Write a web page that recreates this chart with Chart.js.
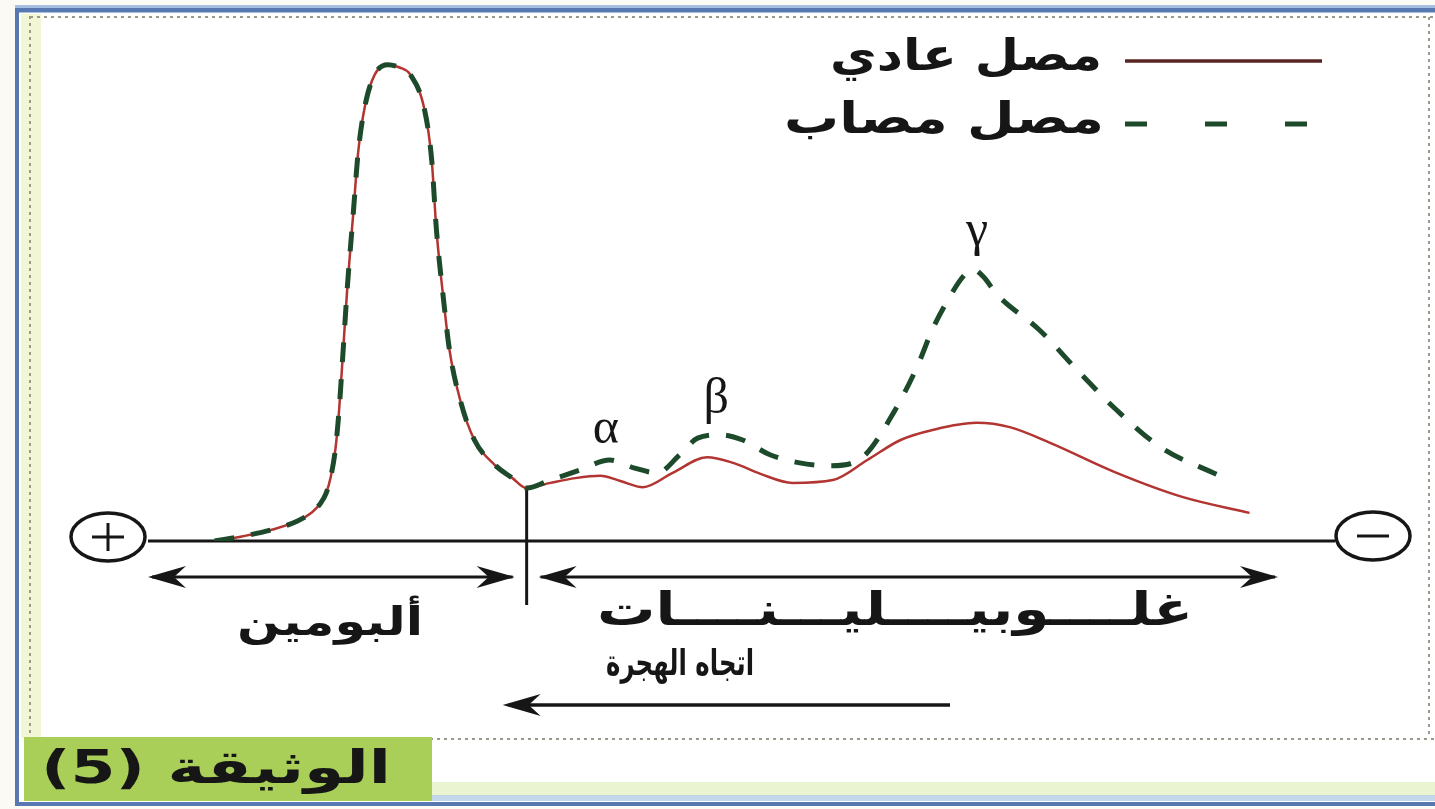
<!DOCTYPE html>
<html lang="ar">
<head>
<meta charset="utf-8">
<title>الهجرة الكهربائية لبروتينات المصل</title>
<script src="https://cdn.jsdelivr.net/npm/chart.js@4.4.1/dist/chart.umd.min.js"></script>
<style>
  html, body { margin: 0; padding: 0; background: #fff; }
  #chart { display: block; }
</style>
</head>
<body>
<canvas id="chart" width="1435" height="809"></canvas>
<script>
// x: migration distance from the + pole, y: relative protein amount (albumin peak = 100)
// albumin part, identical for both sera
const albuminX = [5.6, 8.0, 10.5, 12.6, 13.8, 14.5, 15.0, 15.4, 15.8, 16.1, 16.4, 16.8, 17.3, 17.7, 18.3, 19.1, 20.2, 21.2, 22.1, 23.3, 23.9, 24.3, 24.9, 25.4, 26.3, 27.5, 29.2, 30.7, 31.9];
const albuminY = [0, 1.0, 2.4, 4.2, 6.0, 7.8, 10.0, 13.5, 19.5, 27.5, 38.5, 53.5, 69.0, 81.5, 91.6, 97.9, 100, 99.4, 97.9, 90.5, 80.0, 65.3, 50.6, 40.1, 29.6, 21.2, 16.0, 13.2, 11.1];

// globulins, normal serum
const normalX = [33.9, 36.0, 38.1, 39.8, 41.7, 44.2, 47.1, 49.3, 51.6, 54.3, 57.7, 60.6, 63.4, 66.1, 69.8, 72.6, 76.0, 81.6, 87.2, 92.8];
const normalY = [12.2, 13.2, 13.7, 12.6, 11.3, 14.3, 17.6, 16.4, 14.1, 12.2, 12.8, 17.0, 21.2, 23.3, 24.8, 23.9, 20.6, 14.3, 9.2, 5.9];

// globulins, infected serum
const infectedX = [33.9, 36.4, 38.9, 41.0, 42.9, 44.8, 46.3, 48.2, 50.1, 52.4, 54.9, 57.5, 60.2, 62.8, 64.8, 66.1, 67.6, 68.7, 69.5, 70.4, 71.5, 75.1, 78.5, 81.6, 85.3, 90.1];
const infectedY = [12.8, 14.9, 17.0, 15.3, 14.3, 18.1, 21.6, 22.3, 21.2, 18.1, 16.4, 15.8, 17.6, 26.9, 36.6, 44.5, 51.5, 55.6, 57.0, 55.4, 51.8, 44.3, 35.3, 27.5, 19.7, 13.9];

const seriesNames = ['مصل عادي', 'مصل مصاب'];
const fractionNames = ['α', 'β', 'γ'];
const fractionPeakX = [38.9, 48.2, 69.5];   // peaks on the infected curve
const zoneNames = ['ألبومين', 'غلــــوبيــــليـــنــــات'];
const migrationText = 'اتجاه الهجرة';
const captionText = 'الوثيقة (5)';

const toPoints = (xs, ys) => xs.map((x, i) => ({ x: x, y: ys[i] }));
const albumin = toPoints(albuminX, albuminY);

const ink = '#161616';
const arabicFont = '"DejaVu Sans", sans-serif';

function arrowHead(ctx, x, y, dir) {
  // dir = -1 points left, 1 points right
  ctx.beginPath();
  ctx.moveTo(x, y);
  ctx.lineTo(x - dir * 38, y - 11);
  ctx.lineTo(x - dir * 26, y);
  ctx.lineTo(x - dir * 38, y + 11);
  ctx.closePath();
  ctx.fill();
}

function hLine(ctx, x1, x2, y, w) {
  ctx.lineWidth = w;
  ctx.beginPath();
  ctx.moveTo(x1, y);
  ctx.lineTo(x2, y);
  ctx.stroke();
}

// draws text squeezed/stretched to a given width
function fitText(ctx, str, cx, cy, font, width) {
  ctx.save();
  ctx.font = font;
  ctx.direction = 'rtl';
  ctx.textAlign = 'center';
  ctx.textBaseline = 'middle';
  const w = ctx.measureText(str).width;
  ctx.translate(cx, cy);
  ctx.scale(width / w, 1);
  ctx.fillText(str, 0, 0);
  ctx.restore();
}

function electrode(ctx, cx, cy, plus) {
  ctx.lineWidth = 3.5;
  ctx.beginPath();
  ctx.ellipse(cx, cy, 37, 24, 0, 0, Math.PI * 2);
  ctx.stroke();
  ctx.lineWidth = 3;
  ctx.beginPath();
  ctx.moveTo(cx - 16, cy);
  ctx.lineTo(cx + 16, cy);
  if (plus) {
    ctx.moveTo(cx, cy - 14);
    ctx.lineTo(cx, cy + 14);
  }
  ctx.stroke();
}

const sheet = {
  id: 'sheet',
  beforeDraw(chart) {
    const ctx = chart.ctx;
    const W = chart.width, H = chart.height;
    ctx.save();
    ctx.fillStyle = '#fbfaf4';
    ctx.fillRect(0, 0, W, H);
    ctx.fillStyle = '#ffffff';
    ctx.fillRect(19, 14, W - 19, H - 20);

    // pale strip along the left edge
    ctx.fillStyle = 'rgba(226, 236, 160, 0.45)';
    ctx.fillRect(21, 14, 20, 724);
    ctx.strokeStyle = '#9a9a8a';
    ctx.setLineDash([3, 4]);
    ctx.lineWidth = 2;
    ctx.beginPath();
    ctx.moveTo(30, 16); ctx.lineTo(30, 738);
    ctx.moveTo(30, 17); ctx.lineTo(W, 17);
    ctx.moveTo(1429, 17); ctx.lineTo(1429, 738);
    ctx.moveTo(430, 739); ctx.lineTo(W, 739);
    ctx.stroke();
    ctx.setLineDash([]);

    // caption band
    ctx.fillStyle = '#a9cf58';
    ctx.fillRect(24, 737, 408, 64);
    ctx.fillStyle = 'rgba(222, 236, 176, 0.6)';
    ctx.fillRect(432, 782, W - 432, 14);
    ctx.fillStyle = 'rgba(170, 200, 230, 0.7)';
    ctx.fillRect(432, 795, W - 432, 6);

    // blue frame
    ctx.fillStyle = '#a7c0e2';
    ctx.fillRect(15, 5, W - 15, 8);
    ctx.strokeStyle = '#5878b2';
    ctx.lineWidth = 4;
    ctx.beginPath();
    ctx.moveTo(17, 10); ctx.lineTo(W, 10);
    ctx.moveTo(17, 8); ctx.lineTo(17, 806);
    ctx.moveTo(15, 804); ctx.lineTo(W, 804);
    ctx.stroke();
    ctx.restore();
  },
  beforeDatasetsDraw(chart) {
    const ctx = chart.ctx;
    const area = chart.chartArea;
    const xs = chart.scales.x, ys = chart.scales.y;
    const base = ys.getPixelForValue(0);
    const split = xs.getPixelForValue(albuminX[albuminX.length - 1]);
    ctx.save();
    ctx.strokeStyle = ink;
    ctx.fillStyle = ink;
    hLine(ctx, area.left, area.right, base, 3);

    // albumin / globulin boundary
    ctx.lineWidth = 3;
    ctx.beginPath();
    ctx.moveTo(split, ys.getPixelForValue(albuminY[albuminY.length - 1]));
    ctx.lineTo(split, base + 64);
    ctx.stroke();

    electrode(ctx, area.left - 40, base - 4, true);
    electrode(ctx, area.right + 38, base - 5, false);
    ctx.restore();
  },
  afterDraw(chart) {
    const ctx = chart.ctx;
    const area = chart.chartArea;
    const xs = chart.scales.x, ys = chart.scales.y;
    const base = ys.getPixelForValue(0);
    const split = xs.getPixelForValue(albuminX[albuminX.length - 1]);
    ctx.save();
    ctx.strokeStyle = ink;
    ctx.fillStyle = ink;

    // zone arrows
    const ay = base + 36;
    hLine(ctx, area.left + 4, split - 14, ay, 3);
    arrowHead(ctx, area.left, ay, -1);
    arrowHead(ctx, split - 12, ay, 1);
    hLine(ctx, split + 14, area.right - 60, ay, 3);
    arrowHead(ctx, split + 12, ay, -1);
    arrowHead(ctx, area.right - 57, ay, 1);

    fitText(ctx, zoneNames[0], 330, base + 84, 'bold 40px ' + arabicFont, 186);
    fitText(ctx, zoneNames[1], 895, base + 72, 'bold 46px ' + arabicFont, 596);

    // migration direction
    fitText(ctx, migrationText, 680, base + 125, 'bold 36px ' + arabicFont, 148);
    hLine(ctx, split - 18, 950, base + 164, 3.5);
    arrowHead(ctx, split - 24, base + 164, -1);

    // fraction letters above the infected peaks
    const lift = [-17, -22, -24];
    const shift = [-4, -4, 4];
    ctx.font = '50px "Liberation Serif", "DejaVu Serif", serif';
    ctx.textAlign = 'center';
    ctx.textBaseline = 'alphabetic';
    fractionNames.forEach((name, i) => {
      const k = infectedX.indexOf(fractionPeakX[i]);
      const px = xs.getPixelForValue(fractionPeakX[i]) + shift[i];
      const py = ys.getPixelForValue(infectedY[k]) + lift[i];
      ctx.fillText(name, px, py);
    });

    // legend
    chart.data.datasets.forEach((ds, i) => {
      const y = 61 + i * 63;
      ctx.save();
      ctx.strokeStyle = i === 0 ? '#5a2424' : ds.borderColor;
      ctx.setLineDash(i === 0 ? [] : [22, 58]);
      hLine(ctx, 1125, 1322, y, i === 0 ? 3.5 : 5);
      ctx.restore();
      fitText(ctx, ds.label, i === 0 ? 966 : 944, y - 2, 'bold 44px ' + arabicFont, i === 0 ? 272 : 320);
    });

    // caption
    fitText(ctx, captionText, 216, 771, 'bold 46px ' + arabicFont, 350);
    ctx.restore();
  }
};

new Chart(document.getElementById('chart'), {
  type: 'line',
  data: {
    datasets: [
      {
        label: seriesNames[0],
        data: albumin.concat(toPoints(normalX, normalY)),
        borderColor: '#b23532',
        borderWidth: 2.5,
        order: 1
      },
      {
        label: seriesNames[1],
        data: albumin.concat(toPoints(infectedX, infectedY)),
        borderColor: '#1d4a2a',
        borderWidth: 5,
        borderDash: [20, 17],
        order: 0
      }
    ]
  },
  options: {
    responsive: false,
    animation: false,
    devicePixelRatio: 1,
    layout: { padding: { left: 148, right: 100, top: 17, bottom: 268 } },
    elements: {
      point: { radius: 0 },
      line: { cubicInterpolationMode: 'monotone', fill: false }
    },
    scales: {
      x: { type: 'linear', min: 0, max: 100, display: false },
      y: { min: 0, max: 110, display: false }
    },
    plugins: {
      legend: { display: false },
      tooltip: { enabled: false }
    }
  },
  plugins: [sheet]
});
</script>
</body>
</html>
